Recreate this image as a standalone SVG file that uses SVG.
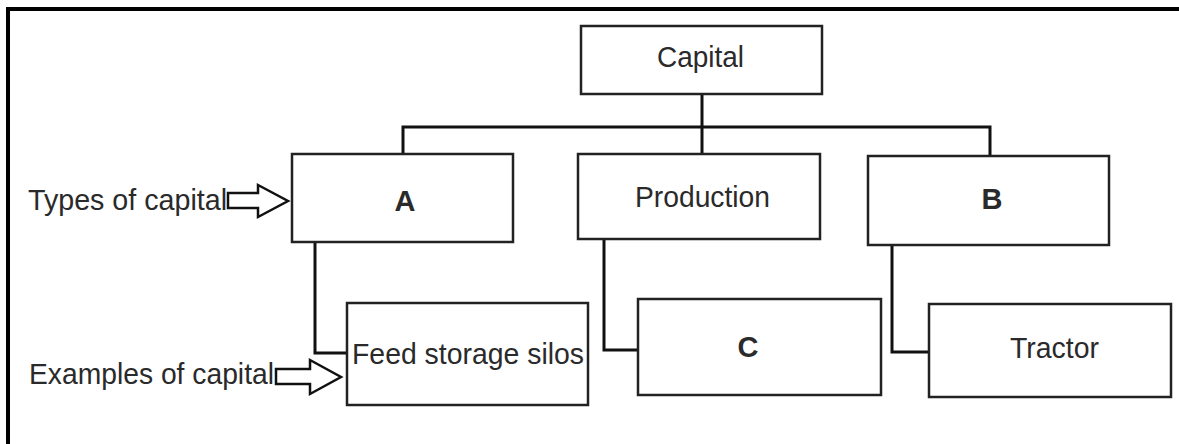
<svg xmlns="http://www.w3.org/2000/svg" width="1179" height="444" viewBox="0 0 1179 444">
<style>
.box{fill:#fff;stroke:#222;stroke-width:2.5}
.t{font-family:"Liberation Sans",Arial,sans-serif;font-size:30px;fill:#2a2a2a;text-anchor:middle}
.l{font-family:"Liberation Sans",Arial,sans-serif;font-size:30px;fill:#2a2a2a}
.b{font-weight:bold;font-size:29px}
.c{fill:none;stroke:#111;stroke-width:3}
.arr{fill:#fff;stroke:#111;stroke-width:2.5;stroke-linejoin:miter}
</style>
<rect width="1179" height="444" fill="#fff"/>
<path d="M8 444 V9 H1179" fill="none" stroke="#000" stroke-width="4"/>
<g id="connectors">
<path class="c" d="M702 94 V155" stroke-width="4.5"/>
<path class="c" d="M403 155 V127 H990 V156"/>
<path class="c" d="M315 242 V353 H348"/>
<path class="c" d="M604 238 V350 H638"/>
<path class="c" d="M892 245 V352 H929"/>
</g>
<g id="capital"><rect class="box" x="581" y="26" width="241" height="68"/><text class="t" x="700.5" y="67" textLength="87" lengthAdjust="spacingAndGlyphs">Capital</text></g>
<g id="a"><rect class="box" x="292" y="154" width="221" height="88"/><text class="t b" x="405" y="211">A</text></g>
<g id="production"><rect class="box" x="578" y="154" width="242" height="85"/><text class="t" x="702.5" y="207" textLength="135" lengthAdjust="spacingAndGlyphs">Production</text></g>
<g id="b"><rect class="box" x="868" y="156" width="241" height="89"/><text class="t b" x="992" y="209">B</text></g>
<g id="feed"><rect class="box" x="347" y="303" width="241" height="102"/><text class="t" x="468" y="364" textLength="232" lengthAdjust="spacingAndGlyphs">Feed storage silos</text></g>
<g id="c"><rect class="box" x="638" y="299" width="243" height="96"/><text class="t b" x="748" y="357">C</text></g>
<g id="tractor"><rect class="box" x="929" y="304" width="242" height="93"/><text class="t" x="1054.5" y="358" textLength="89" lengthAdjust="spacingAndGlyphs">Tractor</text></g>
<g id="types-label"><text class="l" x="28" y="210" textLength="199" lengthAdjust="spacingAndGlyphs">Types of capital</text>
<polygon class="arr" points="228,193 258,193 258,185 288,201 258,217 258,208 228,208"/></g>
<g id="examples-label"><text class="l" x="29" y="384" textLength="245" lengthAdjust="spacingAndGlyphs">Examples of capital</text>
<polygon class="arr" points="276,369 310,369 310,360 341,377 310,394 310,384 276,384"/></g>
</svg>
